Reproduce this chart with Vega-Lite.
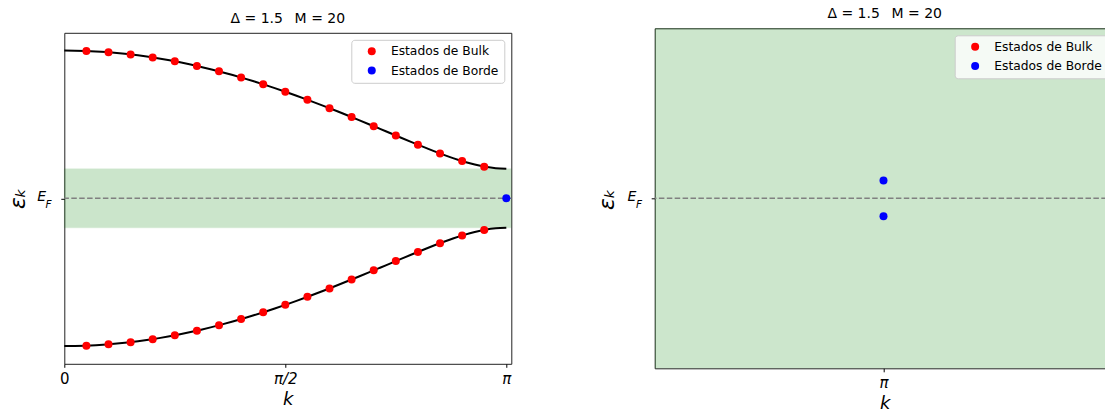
{
  "$schema": "https://vega.github.io/schema/vega-lite/v6.json",
  "background": "white",
  "padding": {"left": 5.3, "top": 6.3, "right": 0, "bottom": 0},
  "config": {
    "font": "DejaVu Sans",
    "view": {"stroke": "#222222", "strokeWidth": 1},
    "axis": {
      "grid": false,
      "domain": false,
      "ticks": true,
      "tickColor": "#000000",
      "tickSize": 3.5,
      "tickWidth": 1,
      "labelColor": "#000000",
      "titleColor": "#000000",
      "labelFont": "DejaVu Sans",
      "titleFont": "DejaVu Sans",
      "labelFontSize": 15,
      "titleFontWeight": "normal",
      "labelFlush": false,
      "labelOverlap": false
    },
    "title": {"font": "DejaVu Sans", "fontSize": 14, "fontWeight": "normal", "color": "#000000", "baseline": "alphabetic", "offset": 7},
    "legend": {
      "orient": "top-right",
      "offset": 7,
      "padding": 5.3,
      "symbolType": "circle",
      "symbolSize": 64,
      "symbolStrokeWidth": 0,
      "symbolOffset": 9,
      "labelOffset": 13,
      "labelFont": "DejaVu Sans",
      "labelFontSize": 12.3,
      "labelColor": "#000000",
      "rowPadding": 6.3,
      "fillColor": "rgba(255,255,255,0.8)",
      "strokeColor": "#cccccc",
      "cornerRadius": 3
    }
  },
  "datasets": {
    "franja": [{"e0": -0.5, "e1": 0.5}],
    "fermi": [{"e": 0}],
    "curva": [
      {"k": 0, "sup": 2.5, "inf": -2.5},
      {"k": 0.0748, "sup": 2.49832, "inf": -2.49832},
      {"k": 0.1496, "sup": 2.49329, "inf": -2.49329},
      {"k": 0.2244, "sup": 2.48491, "inf": -2.48491},
      {"k": 0.2992, "sup": 2.4732, "inf": -2.4732},
      {"k": 0.374, "sup": 2.45817, "inf": -2.45817},
      {"k": 0.4488, "sup": 2.43986, "inf": -2.43986},
      {"k": 0.5236, "sup": 2.41828, "inf": -2.41828},
      {"k": 0.5984, "sup": 2.39347, "inf": -2.39347},
      {"k": 0.6732, "sup": 2.36548, "inf": -2.36548},
      {"k": 0.748, "sup": 2.33434, "inf": -2.33434},
      {"k": 0.8228, "sup": 2.30011, "inf": -2.30011},
      {"k": 0.8976, "sup": 2.26285, "inf": -2.26285},
      {"k": 0.9724, "sup": 2.2226, "inf": -2.2226},
      {"k": 1.0472, "sup": 2.17945, "inf": -2.17945},
      {"k": 1.122, "sup": 2.13346, "inf": -2.13346},
      {"k": 1.1968, "sup": 2.08471, "inf": -2.08471},
      {"k": 1.2716, "sup": 2.03329, "inf": -2.03329},
      {"k": 1.3464, "sup": 1.97928, "inf": -1.97928},
      {"k": 1.4212, "sup": 1.92279, "inf": -1.92279},
      {"k": 1.496, "sup": 1.86392, "inf": -1.86392},
      {"k": 1.5708, "sup": 1.80278, "inf": -1.80278},
      {"k": 1.6456, "sup": 1.73949, "inf": -1.73949},
      {"k": 1.7204, "sup": 1.67418, "inf": -1.67418},
      {"k": 1.7952, "sup": 1.607, "inf": -1.607},
      {"k": 1.87, "sup": 1.53809, "inf": -1.53809},
      {"k": 1.9448, "sup": 1.46764, "inf": -1.46764},
      {"k": 2.0196, "sup": 1.39583, "inf": -1.39583},
      {"k": 2.0944, "sup": 1.32288, "inf": -1.32288},
      {"k": 2.1692, "sup": 1.24902, "inf": -1.24902},
      {"k": 2.244, "sup": 1.17454, "inf": -1.17454},
      {"k": 2.3188, "sup": 1.09976, "inf": -1.09976},
      {"k": 2.3936, "sup": 1.02511, "inf": -1.02511},
      {"k": 2.4684, "sup": 0.95106, "inf": -0.95106},
      {"k": 2.5432, "sup": 0.87823, "inf": -0.87823},
      {"k": 2.618, "sup": 0.80742, "inf": -0.80742},
      {"k": 2.6928, "sup": 0.73966, "inf": -0.73966},
      {"k": 2.7676, "sup": 0.6763, "inf": -0.6763},
      {"k": 2.8424, "sup": 0.6191, "inf": -0.6191},
      {"k": 2.9172, "sup": 0.57028, "inf": -0.57028},
      {"k": 2.992, "sup": 0.53245, "inf": -0.53245},
      {"k": 3.0668, "sup": 0.50832, "inf": -0.50832},
      {"k": 3.1416, "sup": 0.5, "inf": -0.5}
    ],
    "puntos_izq": [
      {"k": 0.1571, "e": 2.4926, "estado": "Estados de Bulk"},
      {"k": 0.3142, "e": 2.47046, "estado": "Estados de Bulk"},
      {"k": 0.4712, "e": 2.43373, "estado": "Estados de Bulk"},
      {"k": 0.6283, "e": 2.38266, "estado": "Estados de Bulk"},
      {"k": 0.7854, "e": 2.31761, "estado": "Estados de Bulk"},
      {"k": 0.9425, "e": 2.23905, "estado": "Estados de Bulk"},
      {"k": 1.0996, "e": 2.14755, "estado": "Estados de Bulk"},
      {"k": 1.2566, "e": 2.04378, "estado": "Estados de Bulk"},
      {"k": 1.4137, "e": 1.92855, "estado": "Estados de Bulk"},
      {"k": 1.5708, "e": 1.80278, "estado": "Estados de Bulk"},
      {"k": 1.7279, "e": 1.66754, "estado": "Estados de Bulk"},
      {"k": 1.885, "e": 1.52412, "estado": "Estados de Bulk"},
      {"k": 2.042, "e": 1.37405, "estado": "Estados de Bulk"},
      {"k": 2.1991, "e": 1.21928, "estado": "Estados de Bulk"},
      {"k": 2.3562, "e": 1.06239, "estado": "Estados de Bulk"},
      {"k": 2.5133, "e": 0.90716, "estado": "Estados de Bulk"},
      {"k": 2.6704, "e": 0.75959, "estado": "Estados de Bulk"},
      {"k": 2.8274, "e": 0.62994, "estado": "Estados de Bulk"},
      {"k": 2.9845, "e": 0.53566, "estado": "Estados de Bulk"},
      {"k": 0.1571, "e": -2.4926, "estado": "Estados de Bulk"},
      {"k": 0.3142, "e": -2.47046, "estado": "Estados de Bulk"},
      {"k": 0.4712, "e": -2.43373, "estado": "Estados de Bulk"},
      {"k": 0.6283, "e": -2.38266, "estado": "Estados de Bulk"},
      {"k": 0.7854, "e": -2.31761, "estado": "Estados de Bulk"},
      {"k": 0.9425, "e": -2.23905, "estado": "Estados de Bulk"},
      {"k": 1.0996, "e": -2.14755, "estado": "Estados de Bulk"},
      {"k": 1.2566, "e": -2.04378, "estado": "Estados de Bulk"},
      {"k": 1.4137, "e": -1.92855, "estado": "Estados de Bulk"},
      {"k": 1.5708, "e": -1.80278, "estado": "Estados de Bulk"},
      {"k": 1.7279, "e": -1.66754, "estado": "Estados de Bulk"},
      {"k": 1.885, "e": -1.52412, "estado": "Estados de Bulk"},
      {"k": 2.042, "e": -1.37405, "estado": "Estados de Bulk"},
      {"k": 2.1991, "e": -1.21928, "estado": "Estados de Bulk"},
      {"k": 2.3562, "e": -1.06239, "estado": "Estados de Bulk"},
      {"k": 2.5133, "e": -0.90716, "estado": "Estados de Bulk"},
      {"k": 2.6704, "e": -0.75959, "estado": "Estados de Bulk"},
      {"k": 2.8274, "e": -0.62994, "estado": "Estados de Bulk"},
      {"k": 2.9845, "e": -0.53566, "estado": "Estados de Bulk"},
      {"k": 3.1416, "e": 0, "estado": "Estados de Borde"}
    ],
    "puntos_der": [
      {"k": 3.1416, "e": 0.021, "estado": "Estados de Borde"},
      {"k": 3.1416, "e": -0.021, "estado": "Estados de Borde"}
    ],
    "sub_izq": [{"k": 0, "e": 0}],
    "sub_der": [{"k": 2.97, "e": 0}]
  },
  "hconcat": [
    {
      "width": 447,
      "height": 331,
      "title": {"text": "Δ = 1.5\u00a0\u00a0\u2009M = 20"},
      "layer": [
        {
          "data": {"name": "franja"},
          "mark": {"type": "rect", "color": "#008000", "opacity": 0.2, "stroke": "#008000", "strokeOpacity": 0.3, "strokeWidth": 1},
          "encoding": {
            "y": {
              "field": "e0",
              "type": "quantitative",
              "scale": {"domain": [-2.8, 2.8], "nice": false, "zero": false},
              "axis": {
                "values": [0],
                "labelExpr": "'E'",
                "labelFontStyle": "italic",
                "labelFontSize": 14,
                "labelPadding": 15.3,
                "labelOffset": -1.5,
                "title": "εₖ",
                "titleFontSize": 22,
                "titleFontStyle": "italic",
                "titleAngle": 270,
                "titleAlign": "center",
                "titleBaseline": "alphabetic",
                "titleX": -40.3,
                "titleY": 165.2
              }
            },
            "y2": {"field": "e1"}
          }
        },
        {
          "data": {"name": "fermi"},
          "mark": {"type": "rule", "color": "#808080", "strokeDash": [5.5, 2.4], "strokeWidth": 1.5},
          "encoding": {"y": {"field": "e", "type": "quantitative"}}
        },
        {
          "data": {"name": "curva"},
          "transform": [{"fold": ["sup", "inf"], "as": ["rama", "energia"]}],
          "mark": {"type": "line", "color": "#000000", "strokeWidth": 2, "interpolate": "monotone"},
          "encoding": {
            "x": {
              "field": "k",
              "type": "quantitative",
              "scale": {"domain": [0, 3.177], "nice": false, "zero": false},
              "axis": {
                "values": [0, 1.5707963, 3.1415927],
                "labelExpr": "datum.value == 0 ? '0' : (datum.value < 2 ? 'π/2' : 'π')",
                "labelFontStyle": {"condition": {"test": "datum.value == 0", "value": "normal"}, "value": "italic"},
                "labelPadding": 4,
                "title": "k",
                "titleFontSize": 18,
                "titleFontStyle": "italic",
                "titlePadding": 4
              }
            },
            "y": {"field": "energia", "type": "quantitative"},
            "detail": {"field": "rama", "type": "nominal"}
          }
        },
        {
          "data": {"name": "puntos_izq"},
          "mark": {"type": "circle", "size": 64, "opacity": 1},
          "encoding": {
            "x": {"field": "k", "type": "quantitative"},
            "y": {"field": "e", "type": "quantitative"},
            "color": {
              "field": "estado",
              "type": "nominal",
              "scale": {"domain": ["Estados de Bulk", "Estados de Borde"], "range": ["#ff0000", "#0000ff"]},
              "legend": {"title": null}
            }
          }
        },
        {
          "data": {"name": "sub_izq"},
          "mark": {"type": "text", "text": "F", "align": "left", "baseline": "alphabetic", "dx": -18.8, "dy": 10, "fontSize": 10.5, "fontStyle": "italic", "color": "#000000"},
          "encoding": {
            "x": {"field": "k", "type": "quantitative"},
            "y": {"field": "e", "type": "quantitative"}
          }
        }
      ]
    },
    {
      "width": 460,
      "height": 340,
      "title": {"text": "Δ = 1.5\u00a0\u00a0\u2009M = 20"},
      "layer": [
        {
          "data": {"name": "franja"},
          "mark": {"type": "rect", "color": "#008000", "opacity": 0.2, "clip": true},
          "encoding": {
            "y": {
              "field": "e0",
              "type": "quantitative",
              "scale": {"domain": [-0.2, 0.2], "nice": false, "zero": false},
              "axis": {
                "values": [0],
                "labelExpr": "'E'",
                "labelFontStyle": "italic",
                "labelFontSize": 14,
                "labelPadding": 15.3,
                "labelOffset": -1.5,
                "title": "εₖ",
                "titleFontSize": 22,
                "titleFontStyle": "italic",
                "titleAngle": 270,
                "titleAlign": "center",
                "titleBaseline": "alphabetic",
                "titleX": -41.5,
                "titleY": 170.5
              }
            },
            "y2": {"field": "e1"}
          }
        },
        {
          "data": {"name": "fermi"},
          "mark": {"type": "rule", "color": "#808080", "strokeDash": [5.5, 2.4], "strokeWidth": 1.5},
          "encoding": {"y": {"field": "e", "type": "quantitative"}}
        },
        {
          "data": {"name": "puntos_der"},
          "mark": {"type": "circle", "size": 64, "opacity": 1},
          "encoding": {
            "x": {
              "field": "k",
              "type": "quantitative",
              "scale": {"domain": [2.97, 3.315], "nice": false, "zero": false},
              "axis": {
                "values": [3.1415927],
                "labelExpr": "'π'",
                "labelFontStyle": "italic",
                "labelPadding": 4,
                "title": "k",
                "titleFontSize": 18,
                "titleFontStyle": "italic",
                "titlePadding": 4
              }
            },
            "y": {"field": "e", "type": "quantitative"},
            "color": {
              "field": "estado",
              "type": "nominal",
              "scale": {"domain": ["Estados de Bulk", "Estados de Borde"], "range": ["#ff0000", "#0000ff"]},
              "legend": {"title": null}
            }
          }
        },
        {
          "data": {"name": "sub_der"},
          "mark": {"type": "text", "text": "F", "align": "left", "baseline": "alphabetic", "dx": -18.8, "dy": 10, "fontSize": 10.5, "fontStyle": "italic", "color": "#000000"},
          "encoding": {
            "x": {"field": "k", "type": "quantitative"},
            "y": {"field": "e", "type": "quantitative"}
          }
        }
      ]
    }
  ],
  "spacing": 143.4,
  "bounds": "flush",
  "center": true,
  "resolve": {"scale": {"color": "independent"}, "legend": {"color": "independent"}}
}
